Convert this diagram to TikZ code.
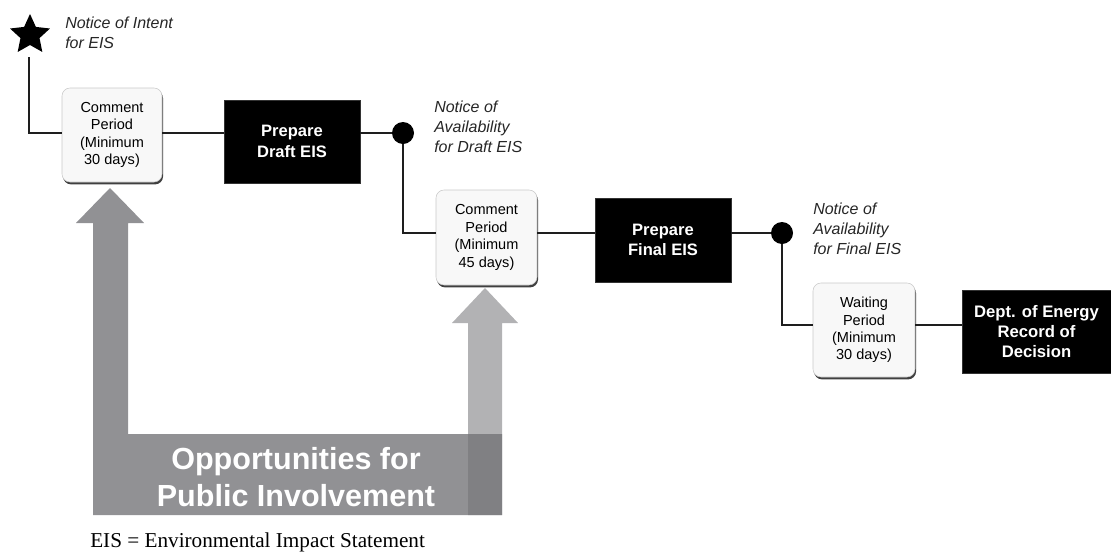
\documentclass[tikz,border=0pt]{standalone}
\usepackage{fontspec}
\setmainfont{Liberation Sans}
\newfontfamily\footserif{Liberation Serif}
\usetikzlibrary{shapes.geometric,shadows}
\definecolor{boxfill}{HTML}{F8F8F8}
\definecolor{boxline}{HTML}{C8C8C8}
\definecolor{linecol}{HTML}{1E1E1E}
\definecolor{arrowlight}{HTML}{B2B2B4}
\definecolor{arrowdark}{HTML}{737377}
\tikzset{
  periodbox/.style={rounded corners=6pt, fill=boxfill, draw=boxline, line width=0.4pt,
    minimum width=75pt, minimum height=70.5pt, inner sep=0pt, align=center,
    font=\fontsize{10.9}{13.1}\selectfont,
    drop shadow={shadow xshift=0.8pt, shadow yshift=-1.8pt, fill=black!75, opacity=1}},
  blackbox/.style={fill=black, draw=black!80, text=white, inner sep=0pt, align=center,
    minimum width=102pt, minimum height=62.25pt,
    font=\fontsize{12.4}{15.4}\selectfont\bfseries},
  notice/.style={anchor=west, align=left, inner sep=0pt,
    font=\fontsize{12}{15}\selectfont\itshape, text=black!85},
  conn/.style={draw=linecol, line width=1.5pt},
  dot/.style={circle, fill=black, minimum size=16.5pt, inner sep=0pt},
}
\begin{document}
\begin{tikzpicture}[x=0.75pt,y=-0.75pt]
\useasboundingbox (0,0) rectangle (1111,554);

% big arrows (background)
\fill[arrowlight] (468,515) -- (468,323) -- (452,323) -- (485,288) -- (518,323)
  -- (502,323) -- (502,515) -- cycle;
\fill[arrowdark, opacity=0.79] (93,515) -- (93,223) -- (76,223) -- (110,188) -- (144,223)
  -- (128,223) -- (128,434) -- (502,434) -- (502,515) -- cycle;
\node[text=white, align=center, inner sep=0pt,
  font=\fontsize{22.9}{27.75}\selectfont\bfseries] (opp) at (296,477)
  {Opportunities for\\Public Involvement};

% row levels
\coordinate (r1) at (0,133);
\coordinate (r2) at (0,233);
\coordinate (r3) at (0,325);

% start star
\node[star, star points=5, star point ratio=2.1, fill=black, minimum size=31.5pt,
  inner sep=0pt] (star) at (30,35) {};
\coordinate (s0) at (29,57);
\node[notice] (n0) at (65,33) {Notice of Intent\\for EIS};

% nodes
\node[periodbox] (b1) at (112,135) {Comment\\Period\\(Minimum\\30 days)};
\node[blackbox] (b2) at (292,141.5) {Prepare\\Draft EIS};
\node[dot] (c1) at (403,133) {};
\node[notice] (n1) at (434,127) {Notice of\\Availability\\for Draft EIS};
\node[periodbox, minimum width=75.75pt, minimum height=71.25pt] (b3) at (486.5,237.5)
  {Comment\\Period\\(Minimum\\45 days)};
\node[blackbox, minimum height=63pt] (b4) at (663,240) {Prepare\\Final EIS};
\node[dot] (c2) at (782,233) {};
\node[notice] (n2) at (813,229) {Notice of\\Availability\\for Final EIS};
\node[periodbox, minimum width=76.5pt] (b5) at (864,330)
  {Waiting\\Period\\(Minimum\\30 days)};
\node[blackbox, minimum width=111.75pt, font=\fontsize{12.5}{15}\selectfont\bfseries]
  (b6) at (1036.5,331.5) {Dept. of Energy\\Record of\\Decision};

% connectors
\draw[conn] (s0) |- (b1.west |- r1);
\draw[conn] (b1.east |- r1) -- (b2.west |- r1);
\draw[conn] (b2.east |- r1) -- (c1);
\draw[conn] (c1) |- (b3.west |- r2);
\draw[conn] (b3.east |- r2) -- (b4.west |- r2);
\draw[conn] (b4.east |- r2) -- (c2);
\draw[conn] (c2) |- (b5.west |- r3);
\draw[conn] (b5.east |- r3) -- (b6.west |- r3);

% footnote
\node[anchor=west, inner sep=0pt, font=\footserif\fontsize{15.9}{18}\selectfont] (foot)
  at (90,542) {EIS = Environmental Impact Statement};
\end{tikzpicture}
\end{document}
